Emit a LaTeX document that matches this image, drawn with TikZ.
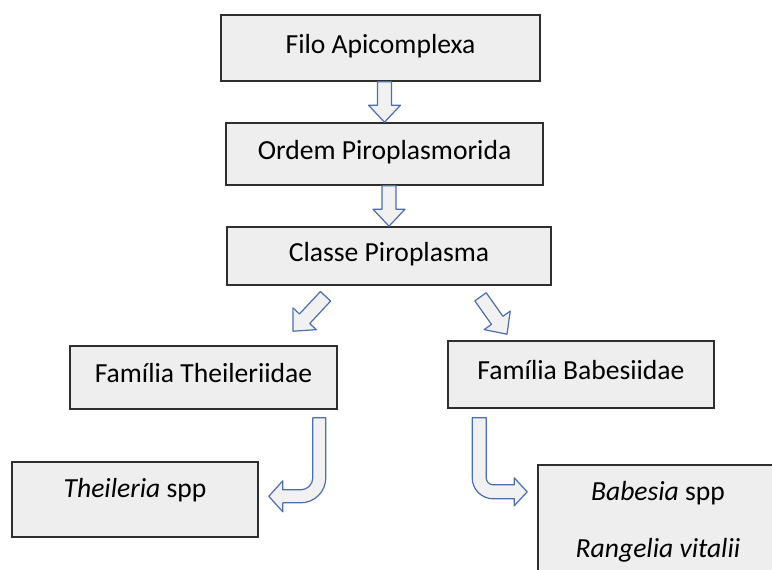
\documentclass[tikz,border=0pt]{standalone}
\usepackage{fontspec}
\setmainfont{Carlito}
\usetikzlibrary{calc}

\definecolor{caixafundo}{HTML}{EFEEEE}
\definecolor{caixaborda}{HTML}{2E2E2E}
\definecolor{setaborda}{HTML}{4A6EAE}
\definecolor{setafundo}{HTML}{F1F1F1}

\tikzset{
  caixa/.style={draw=caixaborda,fill=caixafundo,line width=1.6pt,inner sep=0pt,text height=20pt,text depth=10pt},
  seta/.style={draw=setaborda,fill=setafundo,line width=1.2pt,line join=round},
  rotulo/.style={anchor=base,inner sep=0pt}
}

% straight block arrow: #1 tail centre, #2 tip
\newcommand\blocoseta[2]{%
  \coordinate (hb) at ($(#2)!17pt!(#1)$);
  \draw[seta] ($(#1)!7pt!90:(#2)$) -- ($(hb)!7pt!90:(#2)$) -- ($(hb)!16pt!90:(#2)$) -- (#2)
    -- ($(hb)!16pt!-90:(#2)$) -- ($(hb)!7pt!-90:(#2)$) -- ($(#1)!7pt!-90:(#2)$) -- cycle;}

\begin{document}
\begin{tikzpicture}[x=1pt,y=-1pt,font=\fontsize{27.6}{32}\selectfont]
  \useasboundingbox (0,0) rectangle (772,570);
  \clip (0,0) rectangle (772,570);
  \node[caixa,minimum width=319,minimum height=66] (filo) at (380.5,48) {Filo Apicomplexa};
  \node[caixa,minimum width=317,minimum height=62] (ordem) at (384.5,154) {Ordem Piroplasmorida};
  \node[caixa,minimum width=324,minimum height=58] (classe) at (389,256) {Classe Piroplasma};
  \node[caixa,minimum width=267,minimum height=63] (theileriidae) at (203.5,377.5) {Família Theileriidae};
  \node[caixa,minimum width=266,minimum height=67] (babesiidae) at (581,374.5) {Família Babesiidae};
  \node[caixa,minimum width=246,minimum height=75] (theileria) at (135,499.5) {};
  \node[caixa,minimum width=240,minimum height=140,anchor=north west] (babesia) at (537,464) {};
  \node[rotulo] (theileriatxt) at (135,497) {\textit{Theileria} spp};
  \node[rotulo] (babesiatxt) at (658,500) {\textit{Babesia} spp};
  \node[rotulo] (rangeliatxt) at (658,557) {\textit{Rangelia vitalii}};

  \coordinate (s1) at (filo.south -| ordem.north);
  \coordinate (s2) at (ordem.south -| classe.north);
  \coordinate (d1) at ($(classe.south)+(-63.5,10.5)$);
  \coordinate (e1) at ($(theileriidae.north)+(89.5,-14)$);
  \coordinate (d2) at ($(classe.south)+(91.5,11)$);
  \coordinate (e2) at ($(babesiidae.north)+(-74,-6)$);
  \blocoseta{s1}{ordem.north}
  \blocoseta{s2}{classe.north}
  \blocoseta{d1}{e1}
  \blocoseta{d2}{e2}

  \draw[seta] ($(theileriidae.south east)+(-12,8)$) -- ++(0,60) arc[start angle=0,end angle=-90,radius=25pt]
    -- ++(-18,0) -- ++(0,9) -- ++(-14,-15.5) -- ++(14,-15.5) -- ++(0,9) -- ++(18,0)
    arc[start angle=-90,end angle=0,radius=12pt] -- ++(0,-60) -- cycle;
  \draw[seta] ($(babesiidae.south west)+(25,9)$) -- ++(0,60) arc[start angle=180,end angle=270,radius=21pt]
    -- ++(21,0) -- ++(0,7) -- ++(13,-14) -- ++(-13,-14) -- ++(0,7) -- ++(-21,0)
    arc[start angle=270,end angle=180,radius=7pt] -- ++(0,-60) -- cycle;
\end{tikzpicture}
\end{document}
